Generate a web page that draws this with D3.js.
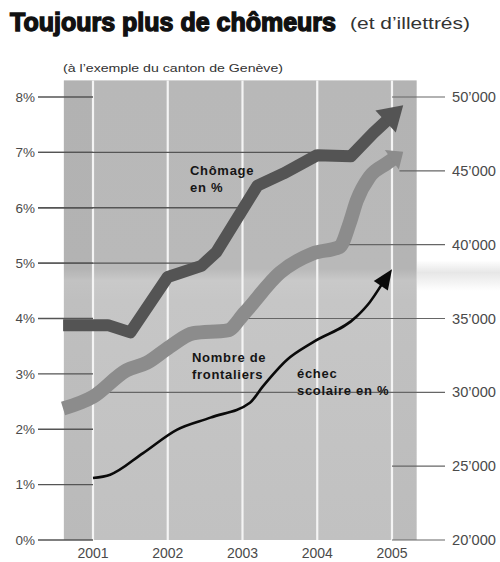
<!DOCTYPE html>
<html><head><meta charset="utf-8">
<script src="https://cdn.jsdelivr.net/npm/d3@7/dist/d3.min.js"></script>
<style>body{margin:0;background:#fff}svg{display:block}</style>
</head><body>
<svg id="chart" width="500" height="562"></svg>
<script>
// ---- data ----
const yearTicks = [2001, 2002, 2003, 2004, 2005];
const pctTicks = [0, 1, 2, 3, 4, 5, 6, 7, 8];
const pctLabels = ["0%", "1%", "2%", "3%", "4%", "5%", "6%", "7%", "8%"];
const frontTicks = [20000, 25000, 30000, 35000, 40000, 45000, 50000];
const frontLabels = ["20’000", "25’000", "30’000", "35’000", "40’000", "45’000", "50’000"];

const chomageYears = [2000.6, 2001.2, 2001.5, 2002.0, 2002.45, 2002.65, 2003.2, 2003.55, 2004.0, 2004.45, 2004.75, 2005.15];
const chomage      = [3.88,   3.88,   3.75,   4.75,   4.95,    5.2,     6.4,    6.62,    6.95,   6.93,    7.35,    7.85];

const frontYears  = [2000.6, 2001.0, 2001.45, 2001.72, 2002.03, 2002.34, 2002.8, 2003.03, 2003.5, 2003.94, 2004.3, 2004.43, 2004.53, 2004.7, 2004.93, 2005.15];
const frontaliers = [28900,  29700,  31500,   32000,   33100,   34000,   34200,  35400,   38100,  39400,   39850,  41400,   43000,   44600,  45500,   46300];

const echecYears = [2001.0, 2001.23, 2001.67, 2002.12, 2002.57, 2003.1, 2003.27, 2003.6, 2003.94, 2004.53, 2004.7, 2005.0];
const echec      = [1.12,   1.18,    1.57,    1.99,    2.21,    2.48,   2.77,    3.26,   3.57,    4.04,    4.29,   4.89];

// leader lines (value, extent in years)
const pctLeaders = [{v: 7, to: 2004.0}, {v: 6, to: 2003.0}, {v: 5, to: 2002.45}];
const frontLeaders = [
  {v: 50000, from: 2005.0}, {v: 45000, from: 2005.1}, {v: 40000, from: 2004.35},
  {v: 35000, from: 2003.05}, {v: 30000, from: 2001.17}, {v: 25000, from: 2005.0}, {v: 20000, from: 2005.0}
];
const panelYears = [2000.61, 2005.33];

// ---- scales ----
const svg = d3.select("#chart");
const x = d3.scaleLinear().domain([2001, 2005]).range([93, 392]);
const yL = d3.scaleLinear().domain([0, 8]).range([540, 97]);
const yR = d3.scaleLinear().domain([20000, 50000]).range([540, 97]);
const FONT = "'Liberation Sans', Arial, sans-serif";

// ---- defs ----
const defs = svg.append("defs");
const g1 = defs.append("linearGradient").attr("id", "panelGrad").attr("x1", 0).attr("y1", 0).attr("x2", 0).attr("y2", 1);
g1.append("stop").attr("offset", "0%").attr("stop-color", "#b8b8b8");
g1.append("stop").attr("offset", "41%").attr("stop-color", "#b9b9b9");
g1.append("stop").attr("offset", "43.5%").attr("stop-color", "#c9c9c9");
g1.append("stop").attr("offset", "48%").attr("stop-color", "#c6c6c6");
g1.append("stop").attr("offset", "100%").attr("stop-color", "#c1c1c1");
const g2 = defs.append("linearGradient").attr("id", "bandGrad").attr("x1", 0).attr("y1", 0).attr("x2", 0).attr("y2", 1);
g2.append("stop").attr("offset", "0%").attr("stop-color", "#e4e4e4").attr("stop-opacity", 0);
g2.append("stop").attr("offset", "40%").attr("stop-color", "#e4e4e4").attr("stop-opacity", 0.9);
g2.append("stop").attr("offset", "100%").attr("stop-color", "#e4e4e4").attr("stop-opacity", 0);

// ---- panel ----
const px0 = x(panelYears[0]), px1 = x(panelYears[1]);
const pyTop = yL(8.3), pyBot = yL(0);
svg.append("rect").attr("x", px1).attr("y", yL(5.05)).attr("width", 500 - px1).attr("height", yL(4.5) - yL(5.05))
  .attr("fill", "url(#bandGrad)");
svg.append("rect").attr("x", px0).attr("y", pyTop).attr("width", px1 - px0).attr("height", pyBot - pyTop)
  .attr("fill", "url(#panelGrad)");
// slightly darker edge strips
svg.append("rect").attr("x", px0).attr("y", pyTop).attr("width", x(2001) - px0).attr("height", pyBot - pyTop)
  .attr("fill", "#000").attr("opacity", 0.03);
svg.append("rect").attr("x", x(2005)).attr("y", pyTop).attr("width", px1 - x(2005)).attr("height", pyBot - pyTop)
  .attr("fill", "#000").attr("opacity", 0.025);
// white year separators
svg.selectAll("line.sep").data(yearTicks).join("line")
  .attr("x1", d => x(d)).attr("x2", d => x(d)).attr("y1", pyTop).attr("y2", pyBot)
  .attr("stroke", "#f4f4f4").attr("stroke-width", 2.2);

// ---- tick / leader lines ----
const tickStroke = "#555";
svg.selectAll("line.lt").data(pctTicks).join("line")
  .attr("x1", 38).attr("x2", x(2001)).attr("y1", d => yL(d)).attr("y2", d => yL(d))
  .attr("stroke", tickStroke).attr("stroke-width", 1.3);
svg.selectAll("line.ll").data(pctLeaders).join("line")
  .attr("x1", 38).attr("x2", d => x(d.to)).attr("y1", d => yL(d.v)).attr("y2", d => yL(d.v))
  .attr("stroke", tickStroke).attr("stroke-width", 1.3);
svg.selectAll("line.rl").data(frontLeaders).join("line")
  .attr("x1", d => x(d.from)).attr("x2", 445).attr("y1", d => yR(d.v)).attr("y2", d => yR(d.v))
  .attr("stroke", "#666").attr("stroke-width", 1.2);

// ---- tick labels ----
svg.selectAll("text.lp").data(pctTicks).join("text")
  .attr("x", 35).attr("y", d => yL(d)).attr("dy", "0.36em").attr("text-anchor", "end")
  .attr("font-family", FONT).attr("font-size", 13.5).attr("fill", "#4a4a4a")
  .text((d, i) => pctLabels[i]);
svg.selectAll("text.rp").data(frontTicks).join("text")
  .attr("x", 452).attr("y", d => yR(d)).attr("dy", "0.36em")
  .attr("font-family", FONT).attr("font-size", 14).attr("fill", "#4a4a4a")
  .attr("textLength", 44).attr("lengthAdjust", "spacingAndGlyphs")
  .text((d, i) => frontLabels[i]);
svg.selectAll("text.yr").data(yearTicks).join("text")
  .attr("x", d => x(d)).attr("y", 558).attr("text-anchor", "middle")
  .attr("font-family", FONT).attr("font-size", 14).attr("fill", "#4a4a4a")
  .text(d => d);

// ---- series helpers ----
function drawArrowSeries(pts, opts) {
  const n = pts.length;
  const tip = pts[n - 1], prev = pts[n - 2];
  let dx = tip[0] - prev[0], dy = tip[1] - prev[1];
  const L = Math.hypot(dx, dy); dx /= L; dy /= L;
  const base = [tip[0] - dx * opts.len, tip[1] - dy * opts.len];
  const end = [base[0] + dx * 2, base[1] + dy * 2];
  const linePts = pts.slice(0, n - 1).concat([end]);
  svg.append("path").attr("d", d3.line().curve(opts.curve)(linePts))
    .attr("fill", "none").attr("stroke", opts.color).attr("stroke-width", opts.width)
    .attr("stroke-linejoin", "round").attr("stroke-linecap", "butt");
  const px = -dy, py = dx, hw = opts.head / 2;
  svg.append("path")
    .attr("d", d3.line()([tip, [base[0] + px * hw, base[1] + py * hw], [base[0] - px * hw, base[1] - py * hw]]) + "Z")
    .attr("fill", opts.color);
}

// frontaliers
drawArrowSeries(frontYears.map((d, i) => [x(d), yR(frontaliers[i])]),
  {color: "#8c8c8c", width: 14, len: 14, head: 24, curve: d3.curveMonotoneX});
// chômage
drawArrowSeries(chomageYears.map((d, i) => [x(d), yL(chomage[i])]),
  {color: "#545454", width: 12, len: 24, head: 30, curve: d3.curveLinear});
// échec scolaire
drawArrowSeries(echecYears.map((d, i) => [x(d), yL(echec[i])]),
  {color: "#0a0a0a", width: 2.6, len: 20, head: 17, curve: d3.curveMonotoneX});

// ---- series labels ----
function label(lines, xx, yy) {
  const t = svg.append("text").attr("font-family", FONT).attr("font-size", 13).attr("font-weight", "bold")
    .attr("fill", "#151515").attr("letter-spacing", 0.7);
  lines.forEach((s, i) => t.append("tspan").attr("x", xx).attr("y", yy + i * 16.5).text(s));
}
label(["Chômage", "en %"], 190, 175);
label(["Nombre de", "frontaliers"], 192, 362);
label(["échec", "scolaire en %"], 297, 378);

// ---- titles ----
svg.append("text").attr("x", 10).attr("y", 31).attr("font-family", FONT).attr("font-size", 25)
  .attr("font-weight", "bold").attr("fill", "#111").attr("stroke", "#111").attr("stroke-width", 1.4)
  .attr("textLength", 326).attr("lengthAdjust", "spacingAndGlyphs")
  .text("Toujours plus de chômeurs");
svg.append("text").attr("x", 350).attr("y", 29).attr("font-family", FONT).attr("font-size", 16.5)
  .attr("fill", "#333").attr("textLength", 120).attr("lengthAdjust", "spacingAndGlyphs")
  .text("(et d’illettrés)");
svg.append("text").attr("x", 63).attr("y", 72).attr("font-family", FONT).attr("font-size", 11)
  .attr("fill", "#333").attr("textLength", 220).attr("lengthAdjust", "spacingAndGlyphs")
  .text("(à l’exemple du canton de Genève)");
</script>
</body></html>
